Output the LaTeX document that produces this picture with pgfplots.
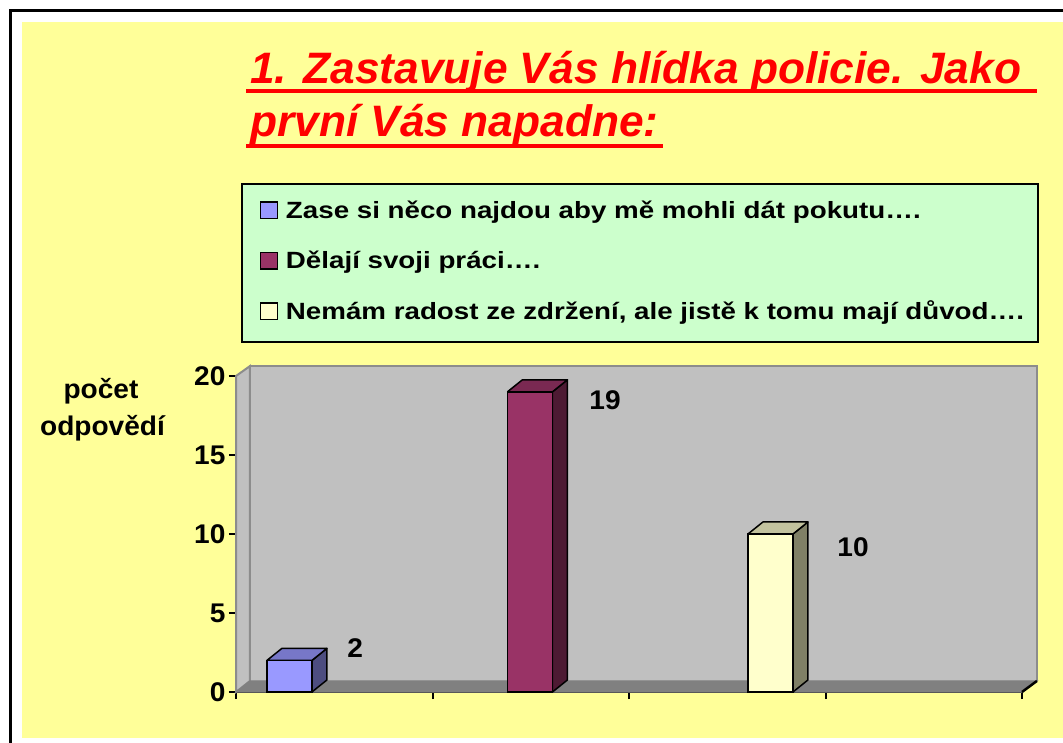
\documentclass[border=0pt]{standalone}
\usepackage{pgfplots}
\pgfplotsset{compat=1.18}
\usepackage{fontspec}
\setmainfont{Liberation Sans}
\newfontfamily\titlefont[FakeStretch=1.006]{Liberation Sans}
\newfontfamily\legfont[FakeStretch=1.18]{Liberation Sans}
\newfontfamily\lblfont[FakeStretch=1.04]{Liberation Sans}
\definecolor{bgyellow}{HTML}{FFFF99}
\definecolor{leggreen}{HTML}{CCFFCC}
\definecolor{wallgray}{HTML}{C0C0C0}
\definecolor{floorgray}{HTML}{808080}
\definecolor{edgegray}{HTML}{8C8C8C}
\definecolor{sA}{HTML}{9999FF}
\definecolor{sAside}{HTML}{4D4D80}
\definecolor{sAtop}{HTML}{7777C8}
\definecolor{sB}{HTML}{993366}
\definecolor{sBside}{HTML}{4D1A33}
\definecolor{sBtop}{HTML}{7A2952}
\definecolor{sC}{HTML}{FFFFCC}
\definecolor{sCside}{HTML}{808066}
\definecolor{sCtop}{HTML}{C2C29E}
\definecolor{titlered}{HTML}{FF0000}
\begin{document}
\begin{tikzpicture}[x=1pt,y=1pt]
\useasboundingbox (0,0) rectangle (1063,742);
\clip (0,0) rectangle (1063,742);
\fill[white] (0,0) rectangle (1063,742);
\fill[bgyellow] (22,4) rectangle (1070,720);
\draw[line width=3pt] (10.5,-5) -- (10.5,731) -- (1070,731);
% title
\node[anchor=base west, text=titlered, inner sep=0pt, font=\titlefont\bfseries\itshape\fontsize{44}{50}\selectfont] at (250,658.7) {1. Zastavuje Vás hlídka policie. Jako};
\node[anchor=base west, text=titlered, inner sep=0pt, font=\titlefont\bfseries\itshape\fontsize{44}{50}\selectfont] at (250,605.3) {první Vás napadne:};
\fill[titlered] (246,648.7) rectangle (1037,652.9);
\fill[titlered] (246,593.8) rectangle (663,598);
% legend box
\filldraw[fill=leggreen, draw=black, line width=2pt] (242,400) rectangle (1038,558);
% y label
\node[anchor=base, inner sep=0pt, font=\lblfont\bfseries\fontsize{27}{30}\selectfont] at (101,343.7) {počet};
\node[anchor=base, inner sep=0pt, font=\lblfont\bfseries\fontsize{27}{30}\selectfont] at (102.5,306) {odpovědí};
\begin{axis}[
  at={(236pt,50pt)}, anchor=south west,
  scale only axis, width=786pt, height=316pt,
  xmin=0, xmax=4, ymin=0, ymax=20,
  clip=false,
  axis x line*=bottom, axis y line*=left,
  axis line style={black, line width=2.5pt, -},
  xtick={0,1,2,3,4}, xticklabels={},
  ytick={0,5,10,15,20},
  tick align=outside,
  major tick length=7pt,
  tick style={black, line width=2pt},
  /pgf/number format/assume math mode=true,
  yticklabel style={font=\lblfont\bfseries\fontsize{27}{27}\selectfont},
  legend style={at={(axis description cs:0.0305,1.556)}, anchor=north west,
    draw=none, fill=none, inner sep=0pt, outer sep=0pt,
    row sep=26.5pt,
    nodes={inner sep=0pt, text height=18pt, text depth=6pt},
    font=\legfont\bfseries\fontsize{23.5}{26}\selectfont,
    /tikz/every odd column/.append style={column sep=7.5pt}},
  legend cell align=left,
  legend image code/.code={\draw[#1, draw=black, line width=1.5pt] (0pt,-6pt) rectangle (17pt,10.5pt);},
]
% 3D walls
\fill[wallgray] (axis cs:0.0712,0.7) rectangle (axis cs:4.076,20.63);
\draw[edgegray, line width=2pt] (axis cs:0.0712,0.7) -- (axis cs:0.0712,20.63) -- (axis cs:4.076,20.63) -- (axis cs:4.076,0.7);
\filldraw[fill=wallgray, draw=edgegray, line width=2pt] (axis cs:0,0) -- (axis cs:0.0712,0.7) -- (axis cs:0.0712,20.63) -- (axis cs:0,20) -- cycle;
\filldraw[fill=floorgray, draw=floorgray, line width=1pt] (axis cs:0,0) -- (axis cs:4,0) -- (axis cs:4.076,0.7) -- (axis cs:0.0712,0.7) -- cycle;
\draw[black, line width=2.5pt] (axis cs:4,0) -- (axis cs:4.076,0.7);
% bar sides and tops
\addplot[fill=sAside, draw=black, line width=1.5pt, line join=round, mark=none, forget plot] coordinates {(0.3865,0) (0.4625,0.76) (0.4625,2.76) (0.3865,2) (0.3865,0)};
\addplot[fill=sAtop, draw=black, line width=1.5pt, line join=round, mark=none, forget plot] coordinates {(0.1575,2) (0.2335,2.76) (0.4625,2.76) (0.3865,2) (0.1575,2)};
\addplot[fill=sBside, draw=black, line width=1.5pt, line join=round, mark=none, forget plot] coordinates {(1.6105,0) (1.6865,0.76) (1.6865,19.76) (1.6105,19) (1.6105,0)};
\addplot[fill=sBtop, draw=black, line width=1.5pt, line join=round, mark=none, forget plot] coordinates {(1.3815,19) (1.4575,19.76) (1.6865,19.76) (1.6105,19) (1.3815,19)};
\addplot[fill=sCside, draw=black, line width=1.5pt, line join=round, mark=none, forget plot] coordinates {(2.8345,0) (2.9105,0.76) (2.9105,10.76) (2.8345,10) (2.8345,0)};
\addplot[fill=sCtop, draw=black, line width=1.5pt, line join=round, mark=none, forget plot] coordinates {(2.6055,10) (2.6815,10.76) (2.9105,10.76) (2.8345,10) (2.6055,10)};
% bar fronts
\addplot[ybar, bar width=45pt, bar shift=0pt, fill=sA, draw=black, line width=1.5pt] coordinates {(0.272,2)};
\addlegendentry{Zase si něco najdou aby mě mohli dát pokutu….}
\addplot[ybar, bar width=45pt, bar shift=0pt, fill=sB, draw=black, line width=1.5pt] coordinates {(1.496,19)};
\addlegendentry{Dělají svoji práci….}
\addplot[ybar, bar width=45pt, bar shift=0pt, fill=sC, draw=black, line width=1.5pt] coordinates {(2.72,10)};
\addlegendentry{Nemám radost ze zdržení, ale jistě k tomu mají důvod….}
% value labels
\node[font=\lblfont\bfseries\fontsize{27}{27}\selectfont] at (axis cs:0.606,2.78) {2};
\node[font=\lblfont\bfseries\fontsize{27}{27}\selectfont] at (axis cs:1.878,18.48) {19};
\node[font=\lblfont\bfseries\fontsize{27}{27}\selectfont] at (axis cs:3.14,9.18) {10};
\end{axis}
\end{tikzpicture}
\end{document}
